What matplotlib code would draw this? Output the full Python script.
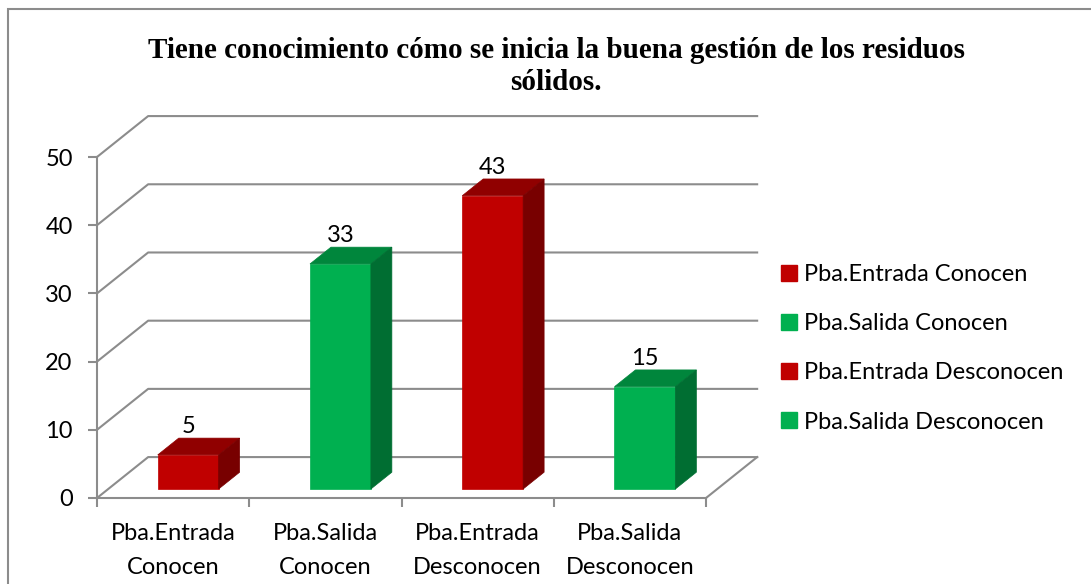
import matplotlib.pyplot as plt
from matplotlib.patches import Polygon, Patch, Rectangle

# data
categories = ["Pba.Entrada\nConocen", "Pba.Salida\nConocen",
              "Pba.Entrada\nDesconocen", "Pba.Salida\nDesconocen"]
series_names = ["Pba.Entrada Conocen", "Pba.Salida Conocen",
                "Pba.Entrada Desconocen", "Pba.Salida Desconocen"]
values = [5, 33, 43, 15]
yticks = [0, 10, 20, 30, 40, 50]
title = "Tiene conocimiento cómo se inicia la buena gestión de los residuos\nsólidos."

# colours (front, top, side)
RED = ("#C00000", "#900000", "#780000")
GREEN = ("#00B050", "#00863C", "#006E32")
bar_colors = [RED, GREEN, RED, GREEN]

GRID = "#8C8C8C"
W, H = 1091, 584

# 3d-ish depth of the wall, in data units
DX, DY = 0.336, 6.0
F0, F1 = 0.22, 0.63      # depth span of the bars (fraction of wall depth)
BAR_W = 0.40

fig = plt.figure(figsize=(W / 100, H / 100), dpi=100)

# axes placed so data (0..4.4, 0..56) lands on the reference pixels
x0, x1 = 97, 97 + 4.4 * 152.25
y0, y1 = 498, 498 - 56 * 6.82
ax = fig.add_axes([x0 / W, 1 - y0 / H, (x1 - x0) / W, (y0 - y1) / H])
ax.set_xlim(0, 4.4)
ax.set_ylim(0, 56)

# walls and gridlines
for t in yticks:
    ax.plot([0, DX, 4 + DX], [t, t + DY, t + DY], color=GRID, lw=1.5,
            zorder=1, clip_on=False)
ax.plot([4, 4 + DX], [0, DY], color=GRID, lw=1.5, zorder=1, clip_on=False)

# bars
for i, (v, c, name) in enumerate(zip(values, bar_colors, series_names)):
    xl = i + 0.5 - BAR_W / 2 + 0.025 + F0 * DX
    xr = xl + BAR_W
    bot = F0 * DY
    ax.bar(xl, v, width=BAR_W, bottom=bot, align="edge", color=c[0],
           edgecolor=c[0], lw=0.5, label=name, zorder=3)
    ddx = (F1 - F0) * DX
    ddy = (F1 - F0) * DY
    top = bot + v
    ax.add_patch(Polygon([(xl, top), (xr, top), (xr + ddx, top + ddy),
                          (xl + ddx, top + ddy)], closed=True,
                         facecolor=c[1], edgecolor=c[1], lw=0.5, zorder=3))
    ax.add_patch(Polygon([(xr, bot), (xr + ddx, bot + ddy), (xr + ddx, top + ddy),
                          (xr, top)], closed=True,
                         facecolor=c[2], edgecolor=c[2], lw=0.5, zorder=3))
    ax.text((xl + xr) / 2, top + ddy + 0.1, str(v), ha="center",
            va="bottom", fontsize=17, family="Lato", zorder=4)

# axes lines and ticks
for s in ["top", "right"]:
    ax.spines[s].set_visible(False)
for s in ["left", "bottom"]:
    ax.spines[s].set_color(GRID)
    ax.spines[s].set_linewidth(1.5)
ax.spines["left"].set_bounds(0, 50)
ax.spines["bottom"].set_bounds(0, 4)
ax.set_yticks(yticks)
ax.set_yticklabels([str(t) for t in yticks], family="Lato", fontsize=17)
ax.set_xticks(range(5))
ax.set_xticklabels([""] * 5)
ax.set_xticks([i + 0.5 for i in range(4)], minor=True)
ax.set_xticklabels(categories, minor=True, family="Lato", fontsize=17,
                   linespacing=1.75)
ax.tick_params(axis="y", length=6.5, width=1.5, color=GRID, pad=11)
ax.tick_params(axis="x", which="major", length=6.5, width=1.5, color=GRID,
               direction="out")
ax.tick_params(axis="x", which="minor", length=0, pad=18)

# title
fig.text(556 / W, 1 - 66.5 / H, title, ha="center", va="center",
         family="Liberation Serif", fontweight="bold", fontsize=21,
         linespacing=1.2)

# legend
handles = [Patch(facecolor=c[0], edgecolor=c[0]) for c in bar_colors]
fig.legend(handles, series_names, loc="upper left",
           bbox_to_anchor=(760 / W, 1 - 243 / H), frameon=False,
           prop={"family": "Lato", "size": 17}, handlelength=0.65,
           handleheight=0.65, handletextpad=0.3, labelspacing=1.19)

# outer chart border
fig.add_artist(Rectangle((8 / W, -0.05), 1.1, 1.05 - 9 / H,
                         transform=fig.transFigure, fill=False,
                         edgecolor="#8C8C8C", lw=1.5))

fig.savefig("out.png", dpi=100)
